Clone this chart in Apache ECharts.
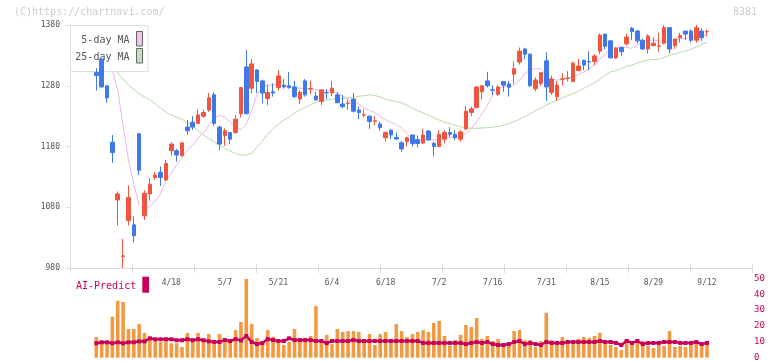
<!DOCTYPE html>
<html><head><meta charset="utf-8">
<script src="https://cdn.jsdelivr.net/npm/echarts@6/dist/echarts.min.js"></script>
<style>html,body{margin:0;padding:0;background:#fff}#c{width:772px;height:361px}</style>
</head><body><div id="c"></div>
<script>
const dates = ['3/29','4/1','4/2','4/3','4/4','4/5','4/8','4/9','4/10','4/11',
'4/12','4/15','4/16','4/17','4/18','4/19','4/22','4/23','4/24','4/25',
'4/26','4/30','5/1','5/2','5/7','5/8','5/9','5/10','5/13','5/14',
'5/15','5/16','5/17','5/20','5/21','5/22','5/23','5/24','5/27','5/28',
'5/29','5/30','5/31','6/3','6/4','6/5','6/6','6/7','6/10','6/11',
'6/12','6/13','6/14','6/17','6/18','6/19','6/20','6/21','6/24','6/25',
'6/26','6/27','6/28','7/1','7/2','7/3','7/4','7/5','7/8','7/9',
'7/10','7/11','7/12','7/15','7/16','7/17','7/18','7/19','7/22','7/23',
'7/24','7/25','7/26','7/29','7/31','8/1','8/2','8/5','8/6','8/7',
'8/8','8/9','8/13','8/14','8/15','8/16','8/19','8/20','8/21','8/22',
'8/23','8/26','8/27','8/28','8/29','8/30','9/2','9/3','9/4','9/5',
'9/6','9/9','9/10','9/11','9/12'];
const tickLabels = ['4/18','5/7','5/21','6/4','6/18','7/2','7/16','7/31','8/15','8/29','9/12'];
const tickIndex = [14,24,34,44,54,64,74,84,94,104,114];

const opens = [1302,1324,1280,1187,1092,999,1058,1051,1201,1066,
1102,1129,1137.5,1125,1173,1173,1165,1212,1220,1218,
1230,1240,1265,1212,1198,1203,1203,1234,1311,1276,
1306,1288,1259,1270,1277,1281,1280,1278,1258,1288,
1274.7,1263,1254,1269,1268,1265,1250,1250.8,1258,1240,
1231.6,1230,1221.7,1217,1194.5,1207,1195,1186,1188,1199,
1191,1186,1205.5,1185,1180,1192,1203,1200,1192,1209,
1236,1244,1270,1288,1273.3,1266,1287,1283,1299,1319,
1340.5,1332,1275,1284,1321,1269,1262,1290.8,1292,1287,
1305,1322,1319.9,1320,1337,1365,1354,1326,1343,1349,
1374.5,1370,1355,1340.5,1346,1345.1,1350,1375.6,1346,1359,
1370,1370,1355,1370,1368.7];
const closes = [1297,1278,1260,1170,1102,1000,1096,1033,1141,1103,
1118,1133,1129,1152,1184,1166,1186,1206,1212,1232,
1236,1260,1218,1184,1206,1192,1225,1277,1234,1316,
1287,1268,1269,1268,1296,1278,1277,1262,1269,1265,
1275.3,1256.5,1273,1268.4,1276,1252,1245.5,1251.4,1238,1236,
1232.2,1221,1222.3,1211,1203.4,1199,1192.4,1176,1194.5,1185,
1185,1199,1191,1180,1200,1203,1200,1194.5,1204,1238,
1242,1278,1280,1280,1272.7,1278,1281,1277.5,1308,1337,
1332,1280,1289.5,1301.5,1278,1291,1281,1291.4,1292.6,1317,
1312.5,1314,1319.3,1329,1363.5,1345,1326,1342,1336,1360,
1369,1354,1340.5,1362,1350,1345.7,1375.6,1340.5,1357,1362.4,
1365,1355,1375.6,1359,1369.3];
const lows = [1272,1277,1252,1153,1050,980,1050,1022,1133,1059,
1091,1125,1115,1123,1165,1155,1163,1199,1207,1217,
1227,1237,1214,1174,1181,1184,1201,1228,1233,1268,
1268,1251,1248,1262,1272,1275,1275,1260,1250,1262,
1266,1256,1248,1258,1263,1252,1243,1240,1236,1225,
1228,1209,1215,1206,1188,1192,1191,1171.5,1180,1180,
1179,1184,1190,1164,1179,1185,1196,1191,1188,1207,
1230,1243,1258,1277,1265,1263,1270,1262,1283,1315,
1323.5,1278,1271,1280,1255,1265,1255,1280,1287,1286,
1304,1306,1306,1314,1332,1340,1325,1324,1329.5,1346,
1355,1350,1339,1333,1345,1336,1348,1333,1340.5,1351,
1355,1351,1351,1354,1361];
const highs = [1309,1325,1280,1199,1106,1028,1116,1065,1201,1108,
1128,1138,1147,1158,1187,1176,1187,1224,1230,1241,
1241,1268,1269,1214,1210,1204,1232,1278,1339,1324,
1307,1290,1282,1284,1306,1291,1303,1288,1273,1291,
1288,1270,1274,1274,1288,1270,1265,1257,1268,1246,
1241,1231,1230,1221,1204,1208,1203,1189,1196,1199.5,
1198,1209,1207,1188,1207,1207,1212,1207,1207,1247,
1245.5,1279,1281,1303,1281,1281,1287.5,1288,1320,1343,
1342.6,1333,1294,1302,1335,1296.5,1288,1300.5,1304,1320,
1324,1323,1337,1332,1366,1366,1354,1343,1344,1365,
1377,1372,1357,1365,1360,1367,1380,1376,1357,1367,
1370,1373,1380,1374.6,1373];

const ma5 = ['-','-','-',1306,1273,1214,1158,1118,1084,1075,
1082,1090,1102,1123,1136,1150,1161,1174,1182.5,1194,
1202,1215,1228,1231,1228,1220,1212,1208,1217,1239,
1266,1278,1281,1281,1283,1280,1279,1277,1276,1275,
1275,1273,1273,1273,1272,1267,1263,1258,1254,1250,
1243,1239,1236,1229,1224,1220,1216,1210,1201,1192,
1191,1191,1191,1191,1191,1193,1195,1196,1196,1201,
1210,1221,1234,1247.5,1265,1275,1278.5,1278.5,1281,1289,
1300,1306,1308,1308,1296,1291,1289.5,1290,1293,1295,
1298.5,1303,1308,1314,1324,1332,1340.5,1343,1344,1343,
1341.6,1347,1352,1355,1355,1354,1352.5,1352.5,1354.5,1357,
1358,1360,1361,1362,1363.5];
const ma25 = ['-','-','-',1312.5,1301,1291,1281,1274,1267,1261.5,
1257,1250,1243.5,1237,1231.5,1228,1225,1219,1214,1206,
1199,1193,1187.5,1182,1177,1172.6,1168.5,1166,1166,1169,
1179,1189,1200,1209.6,1217,1223.6,1228.6,1235,1240,1244,
1249,1252.4,1255,1256.5,1258,1259.3,1259.3,1260,1261,1262.4,
1264,1265,1264,1261.5,1258,1255.7,1254,1251.6,1248,1243.4,
1239,1235,1232,1227,1223.6,1220,1218,1215,1212.5,1211,
1210,1210,1210.5,1211,1212,1213,1215,1218,1221,1225,
1229,1233.5,1239,1243.4,1248.3,1252.4,1256,1260,1263.6,1267,
1271,1275.5,1280.4,1285.4,1290.3,1297.7,1302.6,1305,1308,1312,
1314,1317.5,1320,1322.4,1323.5,1323.5,1326.5,1330.3,1332.3,1334.8,
1337.3,1339.7,1343.8,1348,1350.9];

const volume = [13.0,10.1,10.1,25.8,35.9,35.1,18.1,18.1,21.2,15.6,
11.1,12.2,9.9,12.6,9.1,9.1,6.7,15.6,10.5,15.6,
10.5,14.9,9.4,14.9,12.2,11.1,17.4,22.5,49.6,21.2,
12.4,9.9,17.4,13.2,11.1,8.0,9.9,18.1,11.1,11.1,
13.7,32.6,11.1,14.4,8.6,18.1,16.2,16.8,16.8,16.2,
11.1,14.9,8.0,14.9,16.2,11.1,21.2,16.8,13.0,14.9,
16.2,17.4,16.2,21.9,23.1,13.7,7.4,11.1,14.4,20.6,
19.3,25.0,11.8,13.7,10.5,11.8,8.0,8.0,16.8,17.4,
11.1,11.1,6.7,10.5,28.3,11.1,10.5,13.0,9.1,11.1,
11.8,13.0,12.4,13.7,15.7,10.5,8.0,6.7,4.8,11.8,
10.5,11.8,10.5,7.4,6.1,10.5,7.4,16.8,6.7,7.4,
6.7,10.5,10.5,8.6,10.5];
const aiPredict = [9.1,9.7,9.7,9.1,9.7,9.1,9.7,9.7,10.3,10.3,
12.2,11.6,11.6,11.6,11.6,11,11,11.6,11,11.6,
11,10.3,9.9,9.9,11.1,10.5,11.7,10.9,13.7,9.9,
8.6,9.2,11.7,11.1,10.5,10.5,12.2,11.1,11.1,11.1,
11.1,10.5,10.5,9.2,10.5,10.5,10.5,10.5,11.1,10.5,
10.5,10.5,10.5,10.5,10.5,10.5,10.5,10.5,10.5,10.5,
10.5,9.3,9.3,9.3,9.3,9.3,9.3,9.3,9.3,8.6,
9.3,9.9,9.3,9.9,8.6,8.0,8.0,8.6,9.9,10.5,
8.6,9.3,8.6,8.0,9.9,9.3,9.3,9.3,9.9,9.9,
9.9,9.9,9.9,9.9,10.5,9.9,9.9,9.3,8.0,10.5,
9.3,10.5,8.6,9.3,9.3,9.3,9.9,9.9,9.9,9.3,
9.3,9.3,9.9,8.6,9.3];

const priceMin = 980, priceMax = 1380, priceStep = 100;
const volMin = 0, volMax = 50, volStep = 10;

const MONO = "'DejaVu Sans Mono', 'Liberation Mono', monospace";
const RED = '#f1543f', BLUE = '#3f78e9', AXIS = '#dcdcdc', CRIMSON = '#c8005a';

const candles = opens.map((o, i) => [o, closes[i], lows[i], highs[i]]);

const chart = echarts.init(document.getElementById('c'), null, {renderer: 'canvas'});
chart.setOption({
  animation: false,
  backgroundColor: '#fff',
  grid: [
    {left: 70, right: 20, top: 25, bottom: 93, outerBoundsMode: 'none'},
    {left: 96.3, right: 65, top: 25, bottom: 93, outerBoundsMode: 'none'},
    {left: 96.3, right: 65, top: 278.3, bottom: 3.3, outerBoundsMode: 'none'},
    {left: 70, right: 20, top: 278.3, bottom: 3.3, outerBoundsMode: 'none'}
  ],
  xAxis: [
    {gridIndex: 0, type: 'value', min: 0, max: 11, interval: 1, position: 'bottom',
     axisLine: {show: true, lineStyle: {color: AXIS, width: 1}},
     axisTick: {show: true, length: 5, lineStyle: {color: AXIS}},
     axisLabel: {show: false}, splitLine: {show: false}},
    {gridIndex: 0, type: 'value', min: 0, max: 11, interval: 1, position: 'bottom',
     axisLine: {show: false},
     axisTick: {show: true, inside: true, length: 4, lineStyle: {color: AXIS}},
     axisLabel: {show: false}, splitLine: {show: false}},
    {gridIndex: 1, type: 'category', data: dates, boundaryGap: false,
     axisLine: {show: false}, axisTick: {show: false}, splitLine: {show: false},
     axisLabel: {
       interval: (idx) => tickIndex.indexOf(idx) >= 0,
       formatter: (v, idx) => tickLabels[tickIndex.indexOf(idx)] || '',
       fontFamily: MONO, fontSize: 8, color: '#555', margin: 11
     }},
    {gridIndex: 2, type: 'category', data: dates, boundaryGap: false, show: false},
    {gridIndex: 3, type: 'value', min: 0, max: 1, show: false}
  ],
  yAxis: [
    {gridIndex: 0, type: 'value', min: priceMin, max: priceMax, interval: priceStep,
     axisLine: {show: true, lineStyle: {color: AXIS}},
     axisTick: {show: true, length: 4, lineStyle: {color: AXIS}},
     axisLabel: {fontFamily: MONO, fontSize: 8, color: '#555', margin: 10, formatter: (v) => String(v)},
     splitLine: {show: false}},
    {gridIndex: 0, type: 'value', min: priceMin, max: priceMax, interval: priceStep,
     axisLine: {show: false},
     axisTick: {show: true, inside: true, length: 3, lineStyle: {color: AXIS}},
     axisLabel: {show: false}, splitLine: {show: false}},
    {gridIndex: 1, type: 'value', min: priceMin, max: priceMax, show: false},
    {gridIndex: 2, type: 'value', min: volMin, max: volMax, show: false},
    {gridIndex: 3, type: 'value', min: volMin, max: volMax, interval: volStep, position: 'right',
     axisLine: {show: false}, axisTick: {show: false}, splitLine: {show: false},
     axisLabel: {fontFamily: MONO, fontSize: 9, color: CRIMSON, margin: 2, formatter: (v) => String(v)}}
  ],
  series: [
    {name: '25-day MA', type: 'line', xAxisIndex: 2, yAxisIndex: 2, data: ma25,
     symbol: 'none', silent: true, z: 1, lineStyle: {color: '#b5dba5', width: 1}},
    {name: '5-day MA', type: 'line', xAxisIndex: 2, yAxisIndex: 2, data: ma5,
     symbol: 'none', silent: true, z: 1, lineStyle: {color: '#ebb3ea', width: 1}},
    {name: 'price', type: 'candlestick', xAxisIndex: 2, yAxisIndex: 2, data: candles,
     barWidth: 4, z: 5, clip: true,
     itemStyle: {color: RED, color0: BLUE, borderColor: RED, borderColor0: BLUE, borderWidth: 1}},
    {name: 'volume', type: 'bar', xAxisIndex: 3, yAxisIndex: 3, data: volume,
     barWidth: 3.6, z: 2, itemStyle: {color: '#f29a42'}},
    {name: 'AI-Predict', type: 'line', xAxisIndex: 3, yAxisIndex: 3, data: aiPredict,
     symbol: 'rect', symbolSize: 4, showSymbol: true, showAllSymbol: true, z: 3,
     lineStyle: {color: CRIMSON, width: 2.5}, itemStyle: {color: CRIMSON}}
  ],
  graphic: [
    {type: 'text', x: 14, y: 12, z: 10, style: {text: '(C)https://chartnavi.com/', font: '10px ' + MONO, fill: '#cccccc', align: 'left', verticalAlign: 'middle'}},
    {type: 'text', x: 757, y: 12, z: 10, style: {text: '8381', font: '10px ' + MONO, fill: '#cccccc', align: 'right', verticalAlign: 'middle'}},
    {type: 'rect', z: 3, shape: {x: 70.5, y: 25.5, width: 77.5, height: 46}, style: {fill: '#ffffff', stroke: '#dedede', lineWidth: 1}},
    {type: 'text', x: 129.5, y: 40, z: 4, style: {text: '5-day MA', font: '10px ' + MONO, fill: '#555', align: 'right', verticalAlign: 'middle'}},
    {type: 'rect', z: 4, shape: {x: 136.5, y: 31.5, width: 6, height: 14.5}, style: {fill: '#f0c2ef', stroke: '#666', lineWidth: 1}},
    {type: 'text', x: 129.5, y: 57, z: 4, style: {text: '25-day MA', font: '10px ' + MONO, fill: '#555', align: 'right', verticalAlign: 'middle'}},
    {type: 'rect', z: 4, shape: {x: 136.5, y: 48.5, width: 6, height: 14.5}, style: {fill: '#c3e0b4', stroke: '#666', lineWidth: 1}},
    {type: 'text', x: 76, y: 286, z: 10, style: {text: 'AI-Predict', font: '10px ' + MONO, fill: CRIMSON, align: 'left', verticalAlign: 'middle'}},
    {type: 'rect', z: 10, shape: {x: 142.3, y: 276.7, width: 6.7, height: 16}, style: {fill: CRIMSON}}
  ]
});
</script>
</body></html>
